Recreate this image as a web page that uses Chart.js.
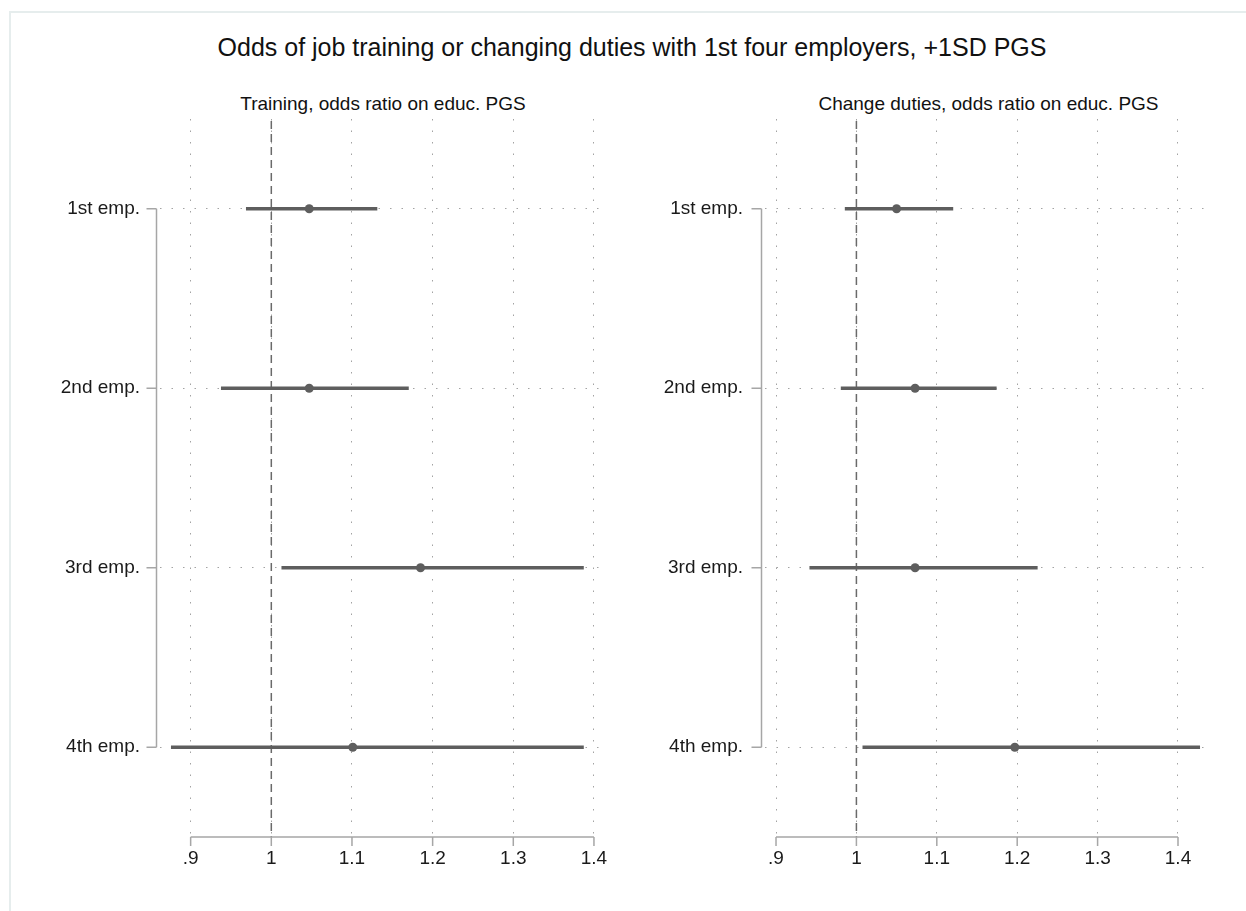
<!DOCTYPE html>
<html>
<head>
<meta charset="utf-8">
<script src="https://cdn.jsdelivr.net/npm/chart.js@4"></script>
<style>
  body { margin: 0; background: #fff; font-family: "Liberation Sans", Arial, sans-serif; }
  #wrap { position: relative; width: 1246px; height: 911px; overflow: hidden; }
  #frame { position: absolute; left: 9px; top: 11px; right: -4px; bottom: -4px;
           border-left: 2px solid #e6eded; border-top: 2px solid #e6eded; }
  .title { position: absolute; left: 0; width: 1264px; top: 33px; text-align: center;
           font-size: 25px; line-height: 29px; color: #111; }
  .sub { position: absolute; top: 93px; text-align: center; font-size: 19px; line-height: 22px; color: #111; }
  .panel { position: absolute; top: 0; height: 911px; }
</style>
</head>
<body>
<div id="wrap">
  <div id="frame"></div>
  <div class="title">Odds of job training or changing duties with 1st four employers, +1SD PGS</div>
  <div class="sub" style="left:160px;width:446px">Training, odds ratio on educ. PGS</div>
  <div class="sub" style="left:765px;width:447px">Change duties, odds ratio on educ. PGS</div>
  <div class="panel" style="left:0;width:620px"><canvas id="trainChart" width="620" height="911"></canvas></div>
  <div class="panel" style="left:620px;width:626px"><canvas id="dutiesChart" width="626" height="911"></canvas></div>
</div>
<script>
const categories = ['1st emp.', '2nd emp.', '3rd emp.', '4th emp.'];

const trainOR = [1.047, 1.047, 1.185, 1.101];
const trainLo = [0.969, 0.938, 1.013, 0.876];
const trainHi = [1.131, 1.170, 1.387, 1.387];

const dutiesOR = [1.050, 1.073, 1.073, 1.197];
const dutiesLo = [0.986, 0.981, 0.942, 1.008];
const dutiesHi = [1.120, 1.174, 1.225, 1.427];

const xTicks = [0.9, 1, 1.1, 1.2, 1.3, 1.4];
const xTickLabels = ['.9', '1', '1.1', '1.2', '1.3', '1.4'];

const markColor = '#5e5e5e';
const axisColor = '#a6a6a6';

// Stata-like axes: lines only across the tick range, plus dashed line at 1
const stataAxes = {
  id: 'stataAxes',
  beforeDatasetsDraw(chart) {
    const { ctx, chartArea, scales: { x } } = chart;
    const xr = x.getPixelForValue(1);
    ctx.save();
    ctx.strokeStyle = '#6a6a6a';
    ctx.lineWidth = 1.5;
    ctx.setLineDash([8, 5]);
    ctx.beginPath();
    ctx.moveTo(xr, chartArea.top + 2);
    ctx.lineTo(xr, chartArea.bottom);
    ctx.stroke();
    ctx.restore();
  },
  afterDraw(chart) {
    const { ctx, chartArea, scales: { x, y } } = chart;
    ctx.save();
    ctx.strokeStyle = axisColor;
    ctx.lineWidth = 1.5;
    ctx.beginPath();
    // y axis
    const ax = chartArea.left - 3.5;
    const yTop = y.getPixelForValue(0);
    const yBot = y.getPixelForValue(categories.length - 1);
    ctx.moveTo(ax, yTop);
    ctx.lineTo(ax, yBot);
    categories.forEach((_, i) => {
      const py = y.getPixelForValue(i);
      ctx.moveTo(ax - 10, py);
      ctx.lineTo(ax, py);
    });
    // x axis
    const by = chartArea.bottom;
    const x0 = x.getPixelForValue(xTicks[0]);
    const x1 = x.getPixelForValue(xTicks[xTicks.length - 1]);
    ctx.moveTo(x0, by);
    ctx.lineTo(x1, by);
    xTicks.forEach(v => {
      const px = x.getPixelForValue(v);
      ctx.moveTo(px, by);
      ctx.lineTo(px, by + 9);
    });
    ctx.stroke();
    ctx.restore();
  },
};

function makePanel(id, est, lo, hi, xMin, xMax, yWidth, yPad, rightPad) {
  const ctx = document.getElementById(id).getContext('2d');
  return new Chart(ctx, {
    type: 'bar',
    data: {
      labels: categories,
      datasets: [
        {
          type: 'line',
          data: est,
          showLine: false,
          pointRadius: 4.5,
          pointBackgroundColor: markColor,
          pointBorderWidth: 0,
          order: 0,
        },
        {
          data: categories.map((_, i) => [lo[i], hi[i]]),
          backgroundColor: markColor,
          barThickness: 3,
          borderSkipped: false,
          order: 1,
        },
      ],
    },
    options: {
      indexAxis: 'y',
      responsive: false,
      animation: false,
      layout: { padding: { top: 119, right: rightPad, left: 0, bottom: 0 } },
      plugins: { legend: { display: false }, tooltip: { enabled: false } },
      scales: {
        x: {
          type: 'linear',
          min: xMin,
          max: xMax,
          afterBuildTicks: scale => { scale.ticks = xTicks.map(v => ({ value: v })); },
          afterFit: scale => { scale.height = 74; },
          ticks: {
            callback: (v, i) => xTickLabels[i],
            font: { family: 'Liberation Sans', size: 19 },
            color: '#1a1a1a',
            padding: 10,
            maxRotation: 0,
            autoSkip: false,
          },
          grid: { color: '#a3a3a3', lineWidth: 1, drawTicks: false },
          border: { display: false, dash: [1.5, 10] },
        },
        y: {
          type: 'category',
          offset: true,
          afterFit: scale => { scale.width = yWidth; },
          ticks: {
            font: { family: 'Liberation Sans', size: 19 },
            color: '#1a1a1a',
            padding: yPad,
          },
          grid: { offset: false, color: '#a3a3a3', lineWidth: 1, drawTicks: false },
          border: { display: false, dash: [1.5, 10] },
        },
      },
    },
    plugins: [stataAxes],
  });
}

makePanel('trainChart', trainOR, trainLo, trainHi, 0.862, 1.4075, 160, 20, 20);
makePanel('dutiesChart', dutiesOR, dutiesLo, dutiesHi, 0.8863, 1.4423, 145, 22, 34);
</script>
</body>
</html>
